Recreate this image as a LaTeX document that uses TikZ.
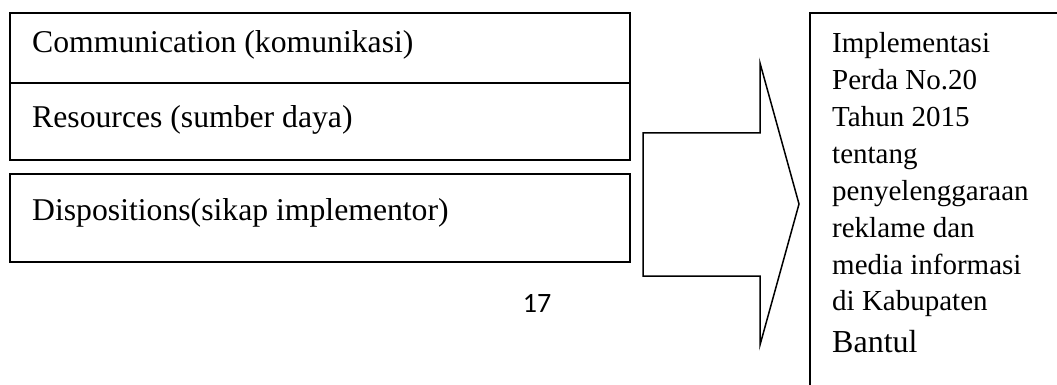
\documentclass[tikz,border=0pt]{standalone}
\usepackage{fontspec}
\setmainfont{Liberation Serif}
\newfontfamily\pagenumfont{Carlito}
\begin{document}
\begin{tikzpicture}[x=1pt,y=-1pt,
  frame/.style={draw=black,line width=1.5pt},
  lefttext/.style={anchor=base west,inner sep=0pt,font=\fontsize{31.7}{37}\selectfont},
  righttext/.style={anchor=base west,inner sep=0pt,font=\fontsize{29}{37}\selectfont}]
\useasboundingbox (0,0) rectangle (1057,385);

% factor boxes on the left
\draw[frame] (10,13) rectangle (630,160);
\draw[frame] (10,83) -- (630,83);
\draw[frame] (10,174) rectangle (630,262);
\node[lefttext] (comm) at (32,53) {Communication (komunikasi)};
\node[lefttext] (res) at (32,128) {Resources (sumber daya)};
\node[lefttext] (disp) at (32,220) {Dispositions(sikap implementor)};

% block arrow
\draw[frame,line join=miter] (643,133) -- (760,133) -- (760,63) -- (799,204)
  -- (760,345) -- (760,276) -- (643,276) -- cycle;

% page number
\node[anchor=base,inner sep=0pt,font=\pagenumfont\fontsize{28}{32}\selectfont] (pg) at (537,312) {17};

% outcome box on the right
\draw[frame] (1057,13) -- (810,13) -- (810,385);
\node[righttext] (l1) at (832,53) {Implementasi};
\node[righttext] (l2) at (832,90) {Perda No.20};
\node[righttext] (l3) at (832,127) {Tahun 2015};
\node[righttext] (l4) at (832,164) {tentang};
\node[righttext] (l5) at (832,200) {penyelenggaraan};
\node[righttext] (l6) at (832,237) {reklame dan};
\node[righttext] (l7) at (832,274) {media informasi};
\node[righttext] (l8) at (832,310) {di Kabupaten};
\node[righttext,font=\fontsize{32}{40}\selectfont] (l9) at (832,352) {Bantul};
\end{tikzpicture}
\end{document}
